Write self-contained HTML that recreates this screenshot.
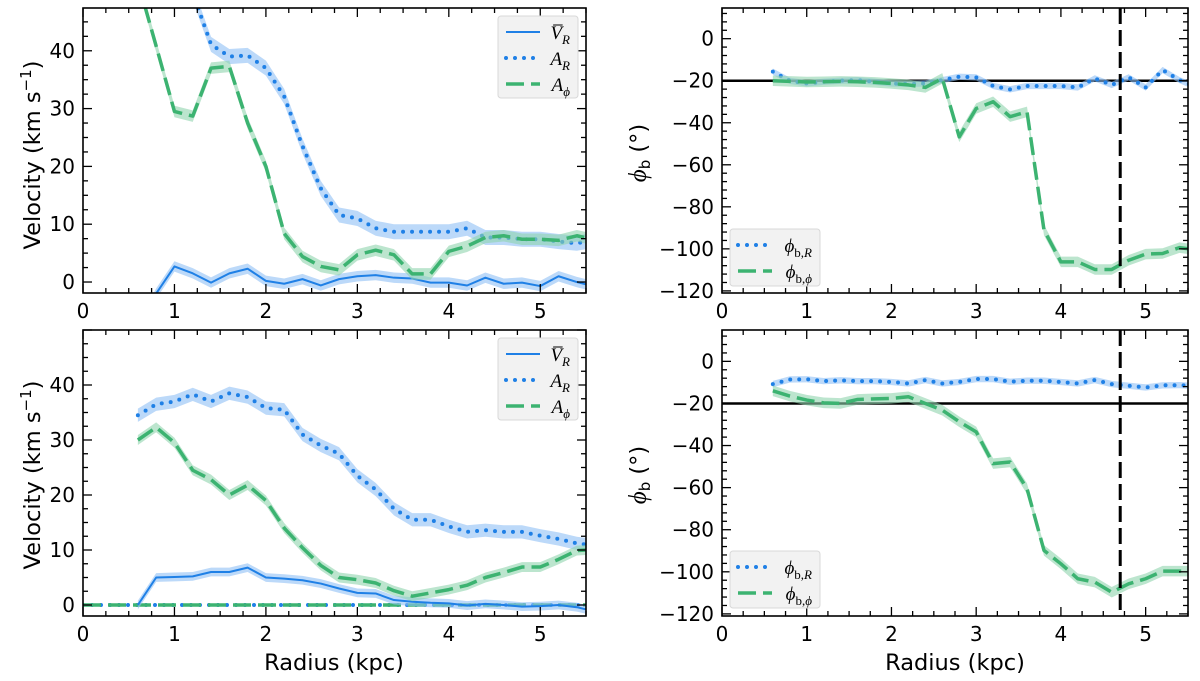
<!DOCTYPE html>
<html><head><meta charset="utf-8"><style>
html,body{margin:0;padding:0;background:#fff}
svg{display:block;font-family:"DejaVu Sans","Liberation Sans",sans-serif}
</style></head><body>
<svg id="fig" width="1200" height="681" viewBox="0 0 1200 681" xmlns="http://www.w3.org/2000/svg"></svg>
<script>
// ---- data ----
const radiusA = [0.6,0.8,1.0,1.2,1.4,1.6,1.8,2.0,2.2,2.4,2.6,2.8,3.0,3.2,3.4,3.6,3.8,4.0,4.2,4.4,4.6,4.8,5.0,5.2,5.4,5.6];
// top-left
const tlVR   = [-8,-2,2.7,1.5,-0.1,1.5,2.3,0.2,-0.3,0.5,-0.6,0.5,1.0,1.2,0.75,0.6,-0.1,-0.1,-0.6,0.75,-0.3,-0.1,-0.7,1.0,0,-0.8];
const tlAR   = [75,68,60,50,41.1,39,39.2,37,32.1,23.5,16.2,11.6,11,9.3,8.7,8.7,8.7,8.7,9.3,7.7,7.7,7.4,7.4,7,6.7,7.3];
const tlAphi = [52,40.8,29.5,28.7,37,37.3,27.5,20,8.4,4.4,2.7,2.1,4.7,5.5,4.7,1.4,1.4,5.3,6.2,7.7,8,7.4,7.4,7.2,8,7.3];
// bottom-left
const blVR   = [0,5.0,5.1,5.2,6.0,6.0,6.8,5.0,4.8,4.5,3.9,3.0,2.2,2.1,0.9,0.6,0.4,0.3,-0.1,0.2,0,-0.3,-0.2,0,-0.4,-1.2];
const blAR   = [34.5,36.5,37,38.3,37,38.5,37.8,35.8,35.5,31,29,27.5,23.5,21,17.5,15.5,15.5,14.3,13.3,13.6,13.3,13.3,12.6,12,11.2,10.8];
const blAphi = [30,32.3,29.5,24.5,22.8,20,21.8,19,14,10.4,7.2,5.0,4.6,4.0,2.6,1.6,2.2,2.8,3.6,5.0,5.9,6.9,6.9,8.3,9.9,10.1];
// top-right
const trPhiR   = [-15.7,-20,-21.3,-20.5,-20,-19.7,-20.5,-21.3,-21.5,-21.3,-19.7,-18.1,-18.4,-22.5,-24.1,-22.5,-22.5,-22.5,-23.2,-18.9,-22,-18.4,-23.2,-14.9,-19.7,-23.2];
const trPhiPhi = [-20,-20.3,-20.6,-20.5,-20.3,-20.5,-20.8,-21.3,-22,-23.2,-18.9,-46.7,-33.2,-30,-37.1,-34.8,-91,-106.2,-106.2,-109.8,-109.8,-105.4,-102.5,-102.2,-99.4,-100.5];
// bottom-right
const brPhiR   = [-10.8,-8.6,-8.5,-9.4,-9,-9.4,-9.4,-9.8,-10.5,-8.9,-10.5,-9.8,-8.4,-8.4,-9.7,-9.2,-9.2,-9.8,-10.5,-8.9,-10.8,-11.6,-12.4,-11.4,-11.3,-11.8];
const brPhiPhi = [-14,-16.5,-18.4,-19.7,-20,-18.1,-17.8,-17.6,-16.8,-20,-23.2,-28.7,-33.5,-48.6,-47.8,-60.5,-89.8,-96.2,-103.3,-104.9,-109.7,-105.7,-103.3,-99.7,-99.7,-99.7];
const barRadius = [4.7];
const refAngle = [-20];
const xTicks = [0,1,2,3,4,5];
const velTicks = [0,10,20,30,40];
const angTicks = [0,-20,-40,-60,-80,-100,-120];

const NS="http://www.w3.org/2000/svg";
const svg=document.getElementById('fig');
function el(tag,attrs,parent){const e=document.createElementNS(NS,tag);for(const k in attrs)e.setAttribute(k,attrs[k]);(parent||svg).appendChild(e);return e;}
const BLUE="#1f80e6", GREEN="#3cb371", BBAND="#8fc0f5", GBAND="#8fd4ad";

function panel(name,L,T,R,B,xmin,xmax,ymin,ymax,yMajor,yMinor,yTicks){
  const g=el('g',{});
  
  
  const cid='clip-'+name;
  const cp=el('clipPath',{id:cid},g);el('rect',{x:L,y:T,width:R-L,height:B-T},cp);
  const p={g,L,T,R,B,
    sx:v=>L+(v-xmin)/(xmax-xmin)*(R-L),
    sy:v=>B-(v-ymin)/(ymax-ymin)*(B-T),
    plot:el('g',{'clip-path':'url(#'+cid+')'},g)};
  const tk=el('g',{stroke:'#000','stroke-width':1.3},g);
  
  
  for(let v=xmin;v<=xmax+1e-9;v+=0.25){const x=p.sx(v);const maj=Math.abs(v-Math.round(v))<1e-6;const len=maj?9:5;
    el('line',{x1:x,y1:B,x2:x,y2:B-len},tk);el('line',{x1:x,y1:T,x2:x,y2:T+len},tk);}
  const y0=Math.ceil(ymin/yMinor)*yMinor;
  for(let v=y0;v<=ymax+1e-9;v+=yMinor){const y=p.sy(v);const maj=Math.abs(v/yMajor-Math.round(v/yMajor))<1e-6;const len=maj?9:5;
    el('line',{x1:L,y1:y,x2:L+len,y2:y},tk);el('line',{x1:R,y1:y,x2:R-len,y2:y},tk);}
  xTicks.forEach(v=>{const t=el('text',{x:p.sx(v),y:B+25,'font-size':20,'text-anchor':'middle'},g);t.textContent=v;
    });
  yTicks.forEach(v=>{const t=el('text',{x:L-8,y:p.sy(v)+7,'font-size':20,'text-anchor':'end'},g);t.textContent=String(v).replace('-','\u2212');
    });
  p.frame=()=>{const f=el('rect',{x:L,y:T,width:R-L,height:B-T,fill:'none',stroke:'#000','stroke-width':1.6},g);
    };
  return p;
}
function series(p,xs,ys,err,color,band,dash,width,name){
  const up=xs.map((x,i)=>p.sx(x)+','+p.sy(ys[i]+err)).join(' ');
  const dn=xs.map((x,i)=>p.sx(x)+','+p.sy(ys[i]-err)).reverse().join(' ');
  const b=el('polygon',{points:up+' '+dn,fill:band,opacity:0.6},p.plot);
  
  const pts=xs.map((x,i)=>p.sx(x)+','+p.sy(ys[i])).join(' ');
  const a={points:pts,fill:'none',stroke:color,'stroke-width':width,'stroke-linejoin':'round'};
  if(dash){a['stroke-dasharray']=dash;if(dash.startsWith('0'))a['stroke-linecap']='round';}
  const l=el('polyline',a,p.plot);
  
}
function legend(p,x,y,w,h,entries,name){
  const g=el('g',{},p.g);
  
  el('rect',{x,y,width:w,height:h,rx:3,fill:'#f2f2f2',stroke:'#d8d8d8','stroke-width':1},g);
  entries.forEach((e,i)=>{const yy=y+16+i*26;
    const a={x1:x+8,y1:yy,x2:x+42,y2:yy,stroke:e.c,'stroke-width':e.w};
    if(e.d){a['stroke-dasharray']=e.d;if(e.d.startsWith('0'))a['stroke-linecap']='round';}
    el('line',a,g);
    const t=el('text',{x:x+w-8,y:yy+7,'font-size':19,'text-anchor':'end','font-style':'italic','font-family':'"Liberation Serif",serif'},g);
    t.innerHTML=e.t;});
}
const DOT='0 9', DASH='18 7';
const LV=[{c:BLUE,w:2,t:'V̅<tspan font-size="13" dy="5">R</tspan>'},{c:BLUE,w:4,d:DOT,t:'A<tspan font-size="13" dy="5">R</tspan>'},{c:GREEN,w:3.5,d:DASH,t:'A<tspan font-size="13" dy="5">ϕ</tspan>'}];
// ---- top-left ----
let p=panel('velocity-panel-top',83,8,586,293,0,5.5,-1.9,47.4,10,2.5,velTicks);
series(p,radiusA,tlVR,0.9,BLUE,BBAND,null,2,'vr-top');
series(p,radiusA,tlAR,1.3,BLUE,BBAND,DOT,4,'ar-top');
series(p,radiusA,tlAphi,1.0,GREEN,GBAND,DASH,3.5,'aphi-top');
p.frame();
legend(p,498,16,80,82,LV,'legend-top-left');
// ---- bottom-left ----
p=panel('velocity-panel-bottom',83,330,586,616,0,5.5,-2,50,10,2.5,velTicks);
el('line',{x1:p.L,y1:p.sy(0),x2:p.R,y2:p.sy(0),stroke:BLUE,'stroke-width':4,'stroke-dasharray':DOT,'stroke-linecap':'round'},p.plot);
el('line',{x1:p.L,y1:p.sy(0),x2:p.R,y2:p.sy(0),stroke:GREEN,'stroke-width':3.5,'stroke-dasharray':DASH},p.plot);
series(p,radiusA,blVR,0.8,BLUE,BBAND,null,2,'vr-bottom');
series(p,radiusA,blAR,1.2,BLUE,BBAND,DOT,4,'ar-bottom');
series(p,radiusA,blAphi,0.9,GREEN,GBAND,DASH,3.5,'aphi-bottom');
p.frame();
legend(p,498,338,80,82,LV,'legend-bottom-left');
// ---- angle panels ----
function anglePanel(name,T,B,ymax,phR,phP,lgY){
  const q=panel(name,722,T,1188,B,0,5.5,-121,ymax,20,4,angTicks);
  const h=el('line',{x1:q.L,y1:q.sy(refAngle[0]),x2:q.R,y2:q.sy(refAngle[0]),stroke:'#000','stroke-width':2.5},q.plot);
  
  series(q,radiusA,phR,1.5,BLUE,BBAND,DOT,4,'phi-r');
  series(q,radiusA,phP,2.5,GREEN,GBAND,DASH,3.5,'phi-phi');
  const v=el('line',{x1:q.sx(barRadius[0]),y1:q.T,x2:q.sx(barRadius[0]),y2:q.B,stroke:'#000','stroke-width':3,'stroke-dasharray':'16 6'},q.plot);
  
  q.frame();
  legend(q,730,lgY,90,57,[{c:BLUE,w:4,d:DOT,t:'ϕ<tspan font-size="13" dy="5" font-style="normal">b,</tspan><tspan font-size="13">R</tspan>'},{c:GREEN,w:3.5,d:DASH,t:'ϕ<tspan font-size="13" dy="5" font-style="normal">b,</tspan><tspan font-size="13">ϕ</tspan>'}],name+'-legend');
  return q;
}
anglePanel('angle-panel-top',8,293,14.6,trPhiR,trPhiPhi,229);
anglePanel('angle-panel-bottom',330,616,14.9,brPhiR,brPhiPhi,551);
// axis titles
function txt(s,x,y,size,rot,name){const t=el('text',{x,y,'font-size':size,'text-anchor':'middle'});if(rot)t.setAttribute('transform','rotate(-90 '+x+' '+y+')');t.innerHTML=s;
  }
txt('Velocity (km s<tspan font-size="15" dy="-9">−1</tspan><tspan dy="9">)</tspan>',40,155,22.5,true,'y-axis-title-top-left');
txt('Velocity (km s<tspan font-size="15" dy="-9">−1</tspan><tspan dy="9">)</tspan>',40,475,22.5,true,'y-axis-title-bottom-left');
txt('<tspan font-style="italic" font-family="Liberation Serif,serif" font-size="25">ϕ</tspan><tspan font-size="15" dy="4">b</tspan><tspan dy="-4"> (°)</tspan>',646,153,22.5,true,'y-axis-title-top-right');
txt('<tspan font-style="italic" font-family="Liberation Serif,serif" font-size="25">ϕ</tspan><tspan font-size="15" dy="4">b</tspan><tspan dy="-4"> (°)</tspan>',646,475,22.5,true,'y-axis-title-bottom-right');
txt('Radius (kpc)',334,670,22.5,false,'x-axis-title-left');
txt('Radius (kpc)',955,670,22.5,false,'x-axis-title-right');
</script>
</body></html>
